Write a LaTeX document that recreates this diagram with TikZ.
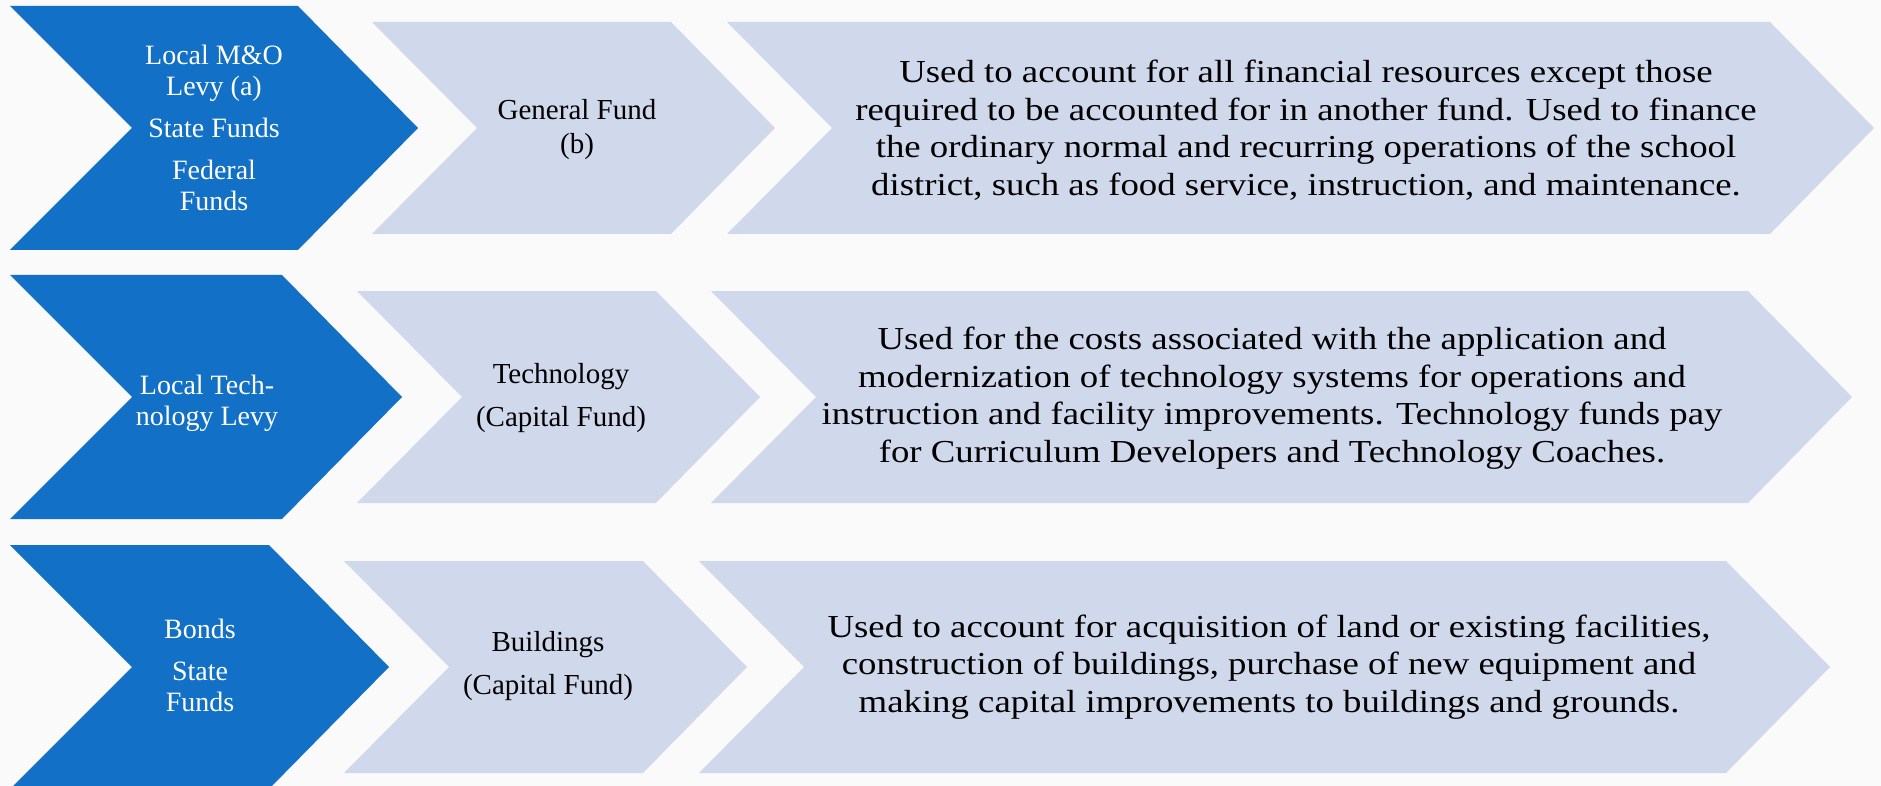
\documentclass[tikz,border=0pt]{standalone}
\usepackage{fontspec}
\setmainfont{Liberation Serif}
\newfontfamily\widefont[FakeStretch=1.15]{Liberation Serif}
\usetikzlibrary{calc}
\definecolor{levyblue}{RGB}{18,112,198}
\definecolor{fundgray}{RGB}{208,216,235}
\definecolor{paper}{RGB}{250,250,250}

\begin{document}
\begin{tikzpicture}[x=1pt,y=-1pt,
    src/.style={text=white,align=center,font=\fontsize{28}{31}\selectfont},
    fund/.style={text=black,align=center,font=\fontsize{29}{34}\selectfont},
    use/.style={text=black,align=center,font=\widefont\fontsize{32}{37.5}\selectfont}]
    \fill[paper] (0,0) rectangle (1881,786);
    \useasboundingbox (0,0) rectangle (1881,786);
    \clip (0,0) rectangle (1881,786);
    \foreach \cy/\bs/\lb/\lc/\sc in {128/298/372/727/1770,397/282/357/711/1748,667/269/344/699/1726}{
      \fill[levyblue] (10,\cy-122) -- (\bs,\cy-122) -- (\bs+120,\cy) -- (\bs,\cy+122) -- (10,\cy+122) -- (132,\cy) -- cycle;
      \fill[fundgray] (\lb,\cy-106) -- (\lb+299,\cy-106) -- (\lb+403,\cy) -- (\lb+299,\cy+106) -- (\lb,\cy+106) -- (\lb+105,\cy) -- cycle;
      \fill[fundgray] (\lc,\cy-106) -- (\sc,\cy-106) -- (\sc+104,\cy) -- (\sc,\cy+106) -- (\lc,\cy+106) -- (\lc+105,\cy) -- cycle;
    }
    \node[src] (src1) at (214,128) {Local M\&O\\Levy (a)\\[11pt]State Funds\\[11pt]Federal\\Funds};
    \node[src] (src2) at (207,403) {Local Tech-\\nology Levy};
    \node[src] (src3) at (200,665) {Bonds\\[11pt]State\\Funds};
    \node[fund] (fund1) at (577,130) {General Fund\\(b)};
    \node[fund] (fund2) at (561,398) {Technology\\[9pt](Capital Fund)};
    \node[fund] (fund3) at (548,666) {Buildings\\[9pt](Capital Fund)};
    \node[use] (use1) at (1306,130) {Used to account for all financial resources except those\\required to be accounted for in another fund. Used to finance\\the ordinary normal and recurring operations of the school\\district, such as food service, instruction, and maintenance.};
    \node[use] (use2) at (1272,398) {Used for the costs associated with the application and\\modernization of technology systems for operations and\\instruction and facility improvements. Technology funds pay\\for Curriculum Developers and Technology Coaches.};
    \node[use] (use3) at (1269,667) {Used to account for acquisition of land or existing facilities,\\construction of buildings, purchase of new equipment and\\making capital improvements to buildings and grounds.};
\end{tikzpicture}
\end{document}
